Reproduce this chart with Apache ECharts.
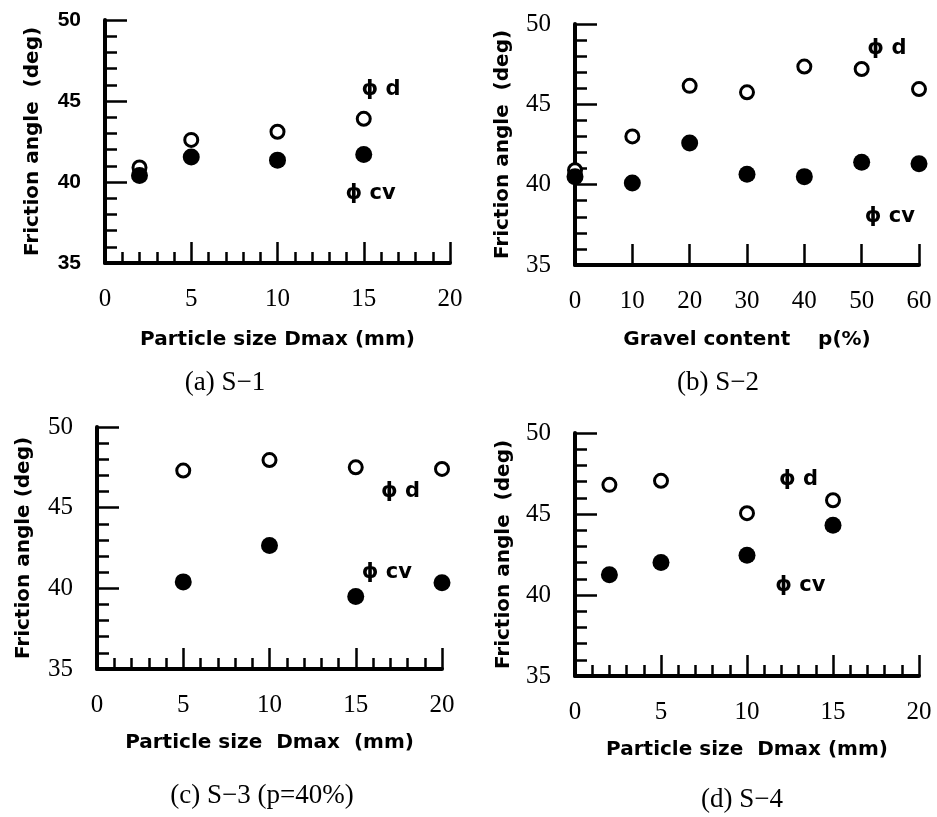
<!DOCTYPE html>
<html>
<head>
<meta charset="utf-8">
<script src="https://cdn.jsdelivr.net/npm/echarts@6/dist/echarts.min.js"></script>
<style>
html,body{margin:0;padding:0;background:#fff;}
#c{width:937px;height:817px;}
</style>
</head>
<body>
<div id="c"></div>
<script>
// ---- Data ----
// (a) S-1
const xA = [2, 5, 10, 15];
const phiDA = [40.9, 42.6, 43.1, 43.9];
const phiCvA = [40.4, 41.55, 41.35, 41.7];
// (b) S-2
const xB = [0, 10, 20, 30, 40, 50, 60];
const phiDB = [40.9, 43.0, 46.15, 45.75, 47.35, 47.2, 45.95];
const phiCvB = [40.5, 40.1, 42.6, 40.65, 40.5, 41.4, 41.3];
// (c) S-3 (p=40%)
const xC = [5, 10, 15, 20];
const phiDC = [47.3, 47.95, 47.5, 47.4];
const phiCvC = [40.4, 42.65, 39.5, 40.35];
// (d) S-4
const xD = [2, 5, 10, 15];
const phiDD = [46.8, 47.05, 45.05, 45.85];
const phiCvD = [41.25, 42.0, 42.45, 44.3];

// Axis ranges / ticks
const yMin = 35, yMax = 50, yStep = 5;
const xRangeDmax = [0, 20, 5];
const xRangeGravel = [0, 60, 10];

// Titles / captions
const yTitles = ['Friction angle  (deg)', 'Friction angle  (deg)', 'Friction angle (deg)', 'Friction angle  (deg)'];
const xTitles = ['Particle size Dmax (mm)', 'Gravel content    p(%)', 'Particle size  Dmax  (mm)', 'Particle size  Dmax (mm)'];
const captions = ['(a) S\u22121', '(b) S\u22122', '(c) S\u22123 (p=40%)', '(d) S\u22124'];

// Curve labels (in data units)
const annA = [[16.0, 45.7, '\u03d5 d'], [15.4, 39.3, '\u03d5 cv']];
const annB = [[54.4, 48.5, '\u03d5 d'], [54.9, 38.0, '\u03d5 cv']];
const annC = [[17.6, 46.0, '\u03d5 d'], [16.8, 41.0, '\u03d5 cv']];
const annD = [[13.0, 47.1, '\u03d5 d'], [13.1, 40.6, '\u03d5 cv']];

// ---- Build ----
const panels = [
  {x: xA, d: phiDA, cv: phiCvA, ann: annA, xr: xRangeDmax, minor: true, grid: {left: 105, top: 20, width: 345, height: 243}, ySans: true, yGap: 62, xGap: 67},
  {x: xB, d: phiDB, cv: phiCvB, ann: annB, xr: xRangeGravel, minor: false, grid: {left: 575, top: 24, width: 344, height: 241}, ySans: false, yGap: 62, xGap: 65},
  {x: xC, d: phiDC, cv: phiCvC, ann: annC, xr: xRangeDmax, minor: true, grid: {left: 97, top: 427, width: 345, height: 242}, ySans: false, yGap: 63, xGap: 64},
  {x: xD, d: phiDD, cv: phiCvD, ann: annD, xr: xRangeDmax, minor: true, grid: {left: 575, top: 433, width: 344, height: 243}, ySans: false, yGap: 61, xGap: 64}
];

const black = '#000';
const serif = '"Liberation Serif", "Times New Roman", serif';
const sans = '"DejaVu Sans", sans-serif';

const grids = [], xAxes = [], yAxes = [], series = [];
panels.forEach((p, i) => {
  grids.push(Object.assign({containLabel: false}, p.grid));
  xAxes.push({
    type: 'value', gridIndex: i, min: p.xr[0], max: p.xr[1], interval: p.xr[2],
    name: xTitles[i], nameLocation: 'middle', nameGap: p.xGap,
    nameTextStyle: {fontFamily: sans, fontWeight: 'bold', fontSize: 20, color: black},
    axisLine: {show: true, onZero: false, lineStyle: {color: black, width: 4}},
    axisTick: {show: true, inside: true, length: 21, lineStyle: {color: black, width: 2.5}},
    minorTick: {show: p.minor, splitNumber: 5, length: 11, lineStyle: {color: black, width: 2.5}},
    axisLabel: {margin: 24, fontFamily: serif, fontSize: 25, color: black},
    splitLine: {show: false}, minorSplitLine: {show: false}
  });
  yAxes.push({
    type: 'value', gridIndex: i, min: yMin, max: yMax, interval: yStep,
    name: yTitles[i], nameLocation: 'middle', nameGap: p.yGap, nameRotate: 90,
    nameTextStyle: {fontFamily: sans, fontWeight: 'bold', fontSize: 20, color: black},
    axisLine: {show: true, onZero: false, lineStyle: {color: black, width: 4}},
    axisTick: {show: true, inside: true, length: 22, lineStyle: {color: black, width: 2.5}},
    minorTick: {show: true, splitNumber: 5, length: 12, lineStyle: {color: black, width: 2.5}},
    axisLabel: p.ySans
      ? {margin: 24, fontFamily: '"Liberation Sans", Arial, sans-serif', fontWeight: 'bold', fontSize: 21, color: black}
      : {margin: 24, fontFamily: serif, fontSize: 25, color: black},
    splitLine: {show: false}, minorSplitLine: {show: false}
  });
  series.push({
    type: 'scatter', xAxisIndex: i, yAxisIndex: i, clip: false, z: 3,
    symbol: 'circle', symbolSize: 13,
    itemStyle: {color: '#fff', borderColor: black, borderWidth: 3, opacity: 1},
    data: p.x.map((v, k) => [v, p.d[k]])
  });
  series.push({
    type: 'scatter', xAxisIndex: i, yAxisIndex: i, clip: false, z: 4,
    symbol: 'circle', symbolSize: 17,
    itemStyle: {color: black, opacity: 1},
    data: p.x.map((v, k) => [v, p.cv[k]])
  });
  series.push({
    type: 'scatter', xAxisIndex: i, yAxisIndex: i, clip: false, z: 5,
    symbolSize: 0, itemStyle: {color: black, opacity: 1},
    label: {show: true, position: 'inside', formatter: (q) => q.data.name,
      fontFamily: sans, fontWeight: 'bold', fontSize: 21, color: black,
      textBorderWidth: 0, opacity: 1},
    data: p.ann.map(a => ({value: [a[0], a[1]], name: a[2]}))
  });
});

const capPos = [[225, 383], [718, 383], [262, 796], [742, 800]];
const graphic = captions.map((t, i) => ({
  type: 'text', x: capPos[i][0], y: capPos[i][1],
  style: {text: t, font: '27px ' + serif, fill: black, textAlign: 'center', textVerticalAlign: 'middle'}
}));

const chart = echarts.init(document.getElementById('c'), null, {renderer: 'canvas'});
chart.setOption({
  animation: false,
  backgroundColor: '#fff',
  grid: grids, xAxis: xAxes, yAxis: yAxes, series: series,
  graphic: graphic
});
</script>
</body>
</html>
